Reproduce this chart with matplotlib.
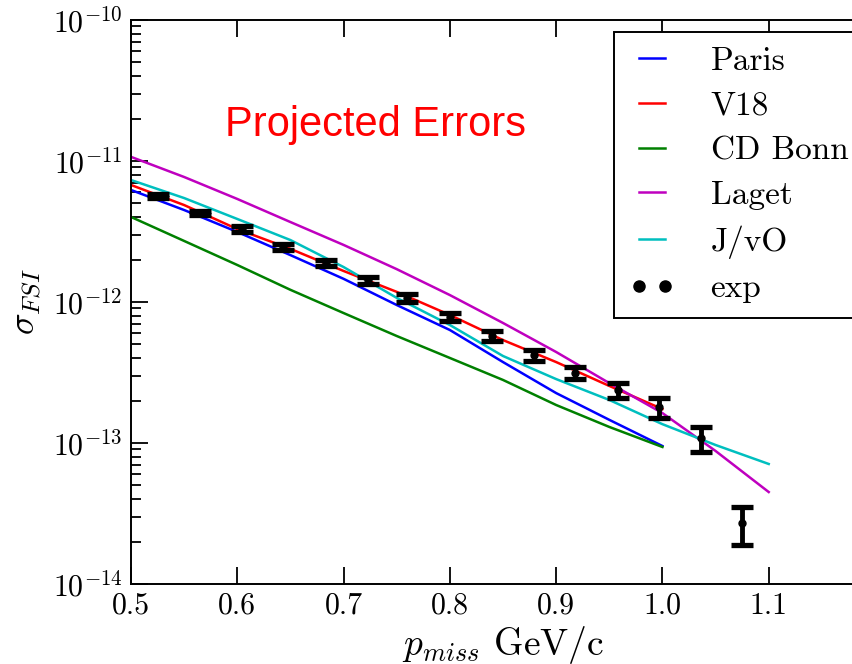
import numpy as np
import matplotlib
matplotlib.use('agg')
import matplotlib.pyplot as plt

plt.rcParams['font.family'] = 'serif'
plt.rcParams['font.serif'] = ['cmr10']
plt.rcParams['mathtext.fontset'] = 'cm'
plt.rcParams['axes.formatter.use_mathtext'] = True

# theory curves, p_miss grid
p_th = [0.5, 0.55, 0.6, 0.65, 0.7, 0.75, 0.8, 0.85, 0.9, 0.95, 1.0, 1.05, 1.1]
paris = [6.23e-12, 4.49e-12, 3.14e-12, 2.15e-12, 1.46e-12, 9.52e-13, 6.33e-13,
         3.75e-13, 2.26e-13, 1.46e-13, 9.52e-14]
v18 = [6.76e-12, 4.87e-12, 3.29e-12, 2.38e-12, 1.66e-12, 1.18e-12, 8.09e-13,
       5.37e-13, 3.75e-13, 2.54e-13, 1.74e-13]
cdbonn = [4.01e-12, 2.71e-12, 1.83e-12, 1.22e-12, 8.35e-13, 5.74e-13, 4.01e-13,
          2.80e-13, 1.86e-13, 1.30e-13, 9.37e-14]
laget = [1.07e-11, 7.70e-12, 5.38e-12, 3.69e-12, 2.54e-12, 1.71e-12, 1.12e-12,
         7.10e-13, 4.42e-13, 2.66e-13, 1.63e-13, 8.78e-14, 4.49e-14]
jvo = [7.33e-12, 5.46e-12, 3.88e-12, 2.75e-12, 1.77e-12, 1.07e-12, 6.87e-13,
       4.14e-13, 2.84e-13, 2.02e-13, 1.36e-13, 9.68e-14, 7.10e-14]

# projected data
p_exp = [0.525, 0.565, 0.604, 0.643, 0.683, 0.723, 0.76, 0.80, 0.84, 0.879,
         0.918, 0.958, 0.997, 1.036, 1.075]
s_exp = [5.65e-12, 4.28e-12, 3.29e-12, 2.45e-12, 1.89e-12, 1.43e-12, 1.07e-12,
         7.83e-13, 5.74e-13, 4.21e-13, 3.14e-13, 2.38e-13, 1.80e-13, 1.085e-13,
         2.71e-14]
rel_err = [0.04, 0.03, 0.05, 0.05, 0.05, 0.06, 0.07, 0.07, 0.08, 0.09,
           0.1, 0.12, 0.16, 0.2, 0.3]
xticks = [0.5, 0.6, 0.7, 0.8, 0.9, 1.0, 1.1]
xticklabels = ['0.5', '0.6', '0.7', '0.8', '0.9', '1.0', '1.1']

fig = plt.figure(figsize=(8.52, 6.64), dpi=100)
# axes runs past the right edge of the picture, like the cropped original
ax = fig.add_axes([131/852, 80/664, 744/852, 564/664])

ax.plot(p_th[:len(paris)], paris, color='b', lw=1.8, label='Paris')
ax.plot(p_th[:len(v18)], v18, color='r', lw=1.8, label='V18')
ax.plot(p_th[:len(cdbonn)], cdbonn, color='g', lw=1.8, label='CD Bonn')
ax.plot(p_th, laget, color='m', lw=1.8, label='Laget')
ax.plot(p_th, jvo, color='c', lw=1.8, label='J/vO')

yerr = np.array(s_exp) * np.array(rel_err)
ax.errorbar(p_exp, s_exp, yerr=yerr, fmt='o', color='k', ms=5,
            elinewidth=3.5, capsize=8, capthick=3.8)
ax.plot([], [], 'o', color='k', ms=8, label='exp')

ax.set_yscale('log')
ax.set_xlim(0.5, 1.2)
ax.set_ylim(1e-14, 1e-10)
ax.set_xticks(xticks)
ax.set_xticklabels(xticklabels)

ax.tick_params(which='both', direction='in', top=True, right=True, width=1.3)
ax.tick_params(which='major', length=12, labelsize=21.5, pad=6)
ax.tick_params(which='minor', length=7.5)
for s in ax.spines.values():
    s.set_linewidth(1.4)

ax.set_xlabel(r'$p_{miss}$ GeV/c', fontsize=27, labelpad=3)
ax.set_ylabel(r'$\sigma_{FSI}$', fontsize=26, labelpad=6)

ax.text(0.328, 0.814, 'Projected Errors', transform=ax.transAxes,
        color='red', fontsize=30, family='Liberation Sans',
        ha='center', va='center')

leg = ax.legend(loc='upper right', fontsize=24, numpoints=2, fancybox=False,
                framealpha=1, edgecolor='k', handlelength=1.38,
                handletextpad=1.08, labelspacing=0.46, borderpad=0.45,
                borderaxespad=0.35)
leg.get_frame().set_linewidth(1.4)

fig.savefig('out.png', dpi=100)
